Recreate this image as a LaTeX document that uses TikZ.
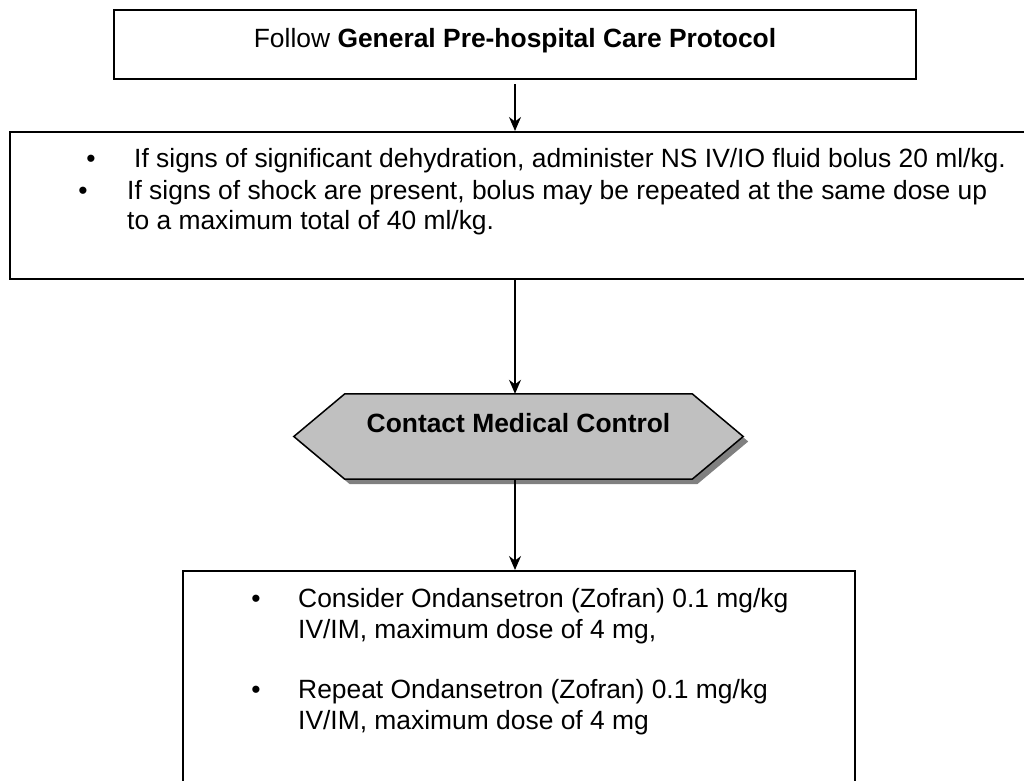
\documentclass[tikz,border=0pt]{standalone}
\usepackage{fontspec}
\setmainfont{Liberation Sans}
\usetikzlibrary{arrows.meta,calc}
\definecolor{hexfill}{HTML}{C0C0C0}
\definecolor{hexshadow}{HTML}{808080}
\begin{document}
\begin{tikzpicture}[x=1pt,y=-1pt,
  box/.style={draw, line width=2pt, inner sep=0pt},
  txt/.style={font=\fontsize{26.4}{30.5}\selectfont, inner sep=0pt, anchor=base west, align=left},
  txtwide/.style={font=\fontsize{26.4}{31}\selectfont, inner sep=0pt, anchor=base west, align=left},
  bul/.style={font=\fontsize{26.4}{26.5}\selectfont, inner sep=0pt, anchor=base},
  arr/.style={line width=1.5pt, -{Stealth[length=14pt,width=12pt]}},
  hexst/.style={draw, line width=1.5pt, fill=hexfill, line join=miter},
  shadowst/.style={fill=hexshadow}]
\useasboundingbox (0,0) rectangle (1024,780);
\clip (0,0) rectangle (1024,780);
\fill[white] (0,0) rectangle (1024,780);

% top box
\node[box, minimum width=802pt, minimum height=69pt, text height=19pt, text depth=14pt,
      font=\fontsize{26.4}{26.5}\selectfont] (b1) at (515,44.5)
  {Follow \textbf{General Pre-hospital Care Protocol}};

% second box (runs off the right edge)
\node[box, anchor=north west, minimum width=1060pt, minimum height=147pt] (b2) at (9,131) {};
\node[bul] (b2d1) at (91,167) {\textbullet};
\node[txt] (b2t1) at (134,167) {If signs of significant dehydration, administer NS IV/IO fluid bolus 20 ml/kg.};
\node[bul] (b2d2) at (83,199) {\textbullet};
\node[txt] (b2t2) at (127,229.5) {If signs of shock are present, bolus may be repeated at the same dose up\\to a maximum total of 40 ml/kg.};

% hexagon
\node[minimum width=449pt, minimum height=85pt, inner sep=0pt] (hex) at (518.5,436.5) {};
\path[shadowst] ($(hex.west)+(5,5)$) -- ($(hex.north west)+(56,5)$) -- ($(hex.north east)+(-46,5)$)
  -- ($(hex.east)+(5,5)$) -- ($(hex.south east)+(-46,5)$) -- ($(hex.south west)+(56,5)$) -- cycle;
\path[hexst] (hex.west) -- ($(hex.north west)+(51,0)$) -- ($(hex.north east)+(-51,0)$)
  -- (hex.east) -- ($(hex.south east)+(-51,0)$) -- ($(hex.south west)+(51,0)$) -- cycle;
\node[minimum width=449pt, minimum height=85pt, inner sep=0pt, text height=19pt, text depth=28pt,
      font=\fontsize{26.4}{26.5}\selectfont\bfseries] (hextext) at (hex.center) {Contact Medical Control};

% bottom box (runs off the bottom edge)
\node[box, anchor=north west, minimum width=672pt, minimum height=260pt] (b3) at (182,570) {};
\node[bul] (b3d1) at (256,607) {\textbullet};
\node[txtwide] (b3t1) at (298,638) {Consider Ondansetron (Zofran) 0.1 mg/kg\\IV/IM, maximum dose of 4 mg,};
\node[bul] (b3d2) at (256,698) {\textbullet};
\node[txtwide] (b3t2) at (298,729) {Repeat Ondansetron (Zofran) 0.1 mg/kg\\IV/IM, maximum dose of 4 mg};

% connectors
\draw[arr] ([yshift=-4pt]b1.south) -- (b2.north -| b1.south);
\draw[arr] (b2.south -| b1.south) -- (hex.north -| b1.south);
\draw[arr] (hex.south -| b1.south) -- (b3.north -| b1.south);
\end{tikzpicture}
\end{document}
